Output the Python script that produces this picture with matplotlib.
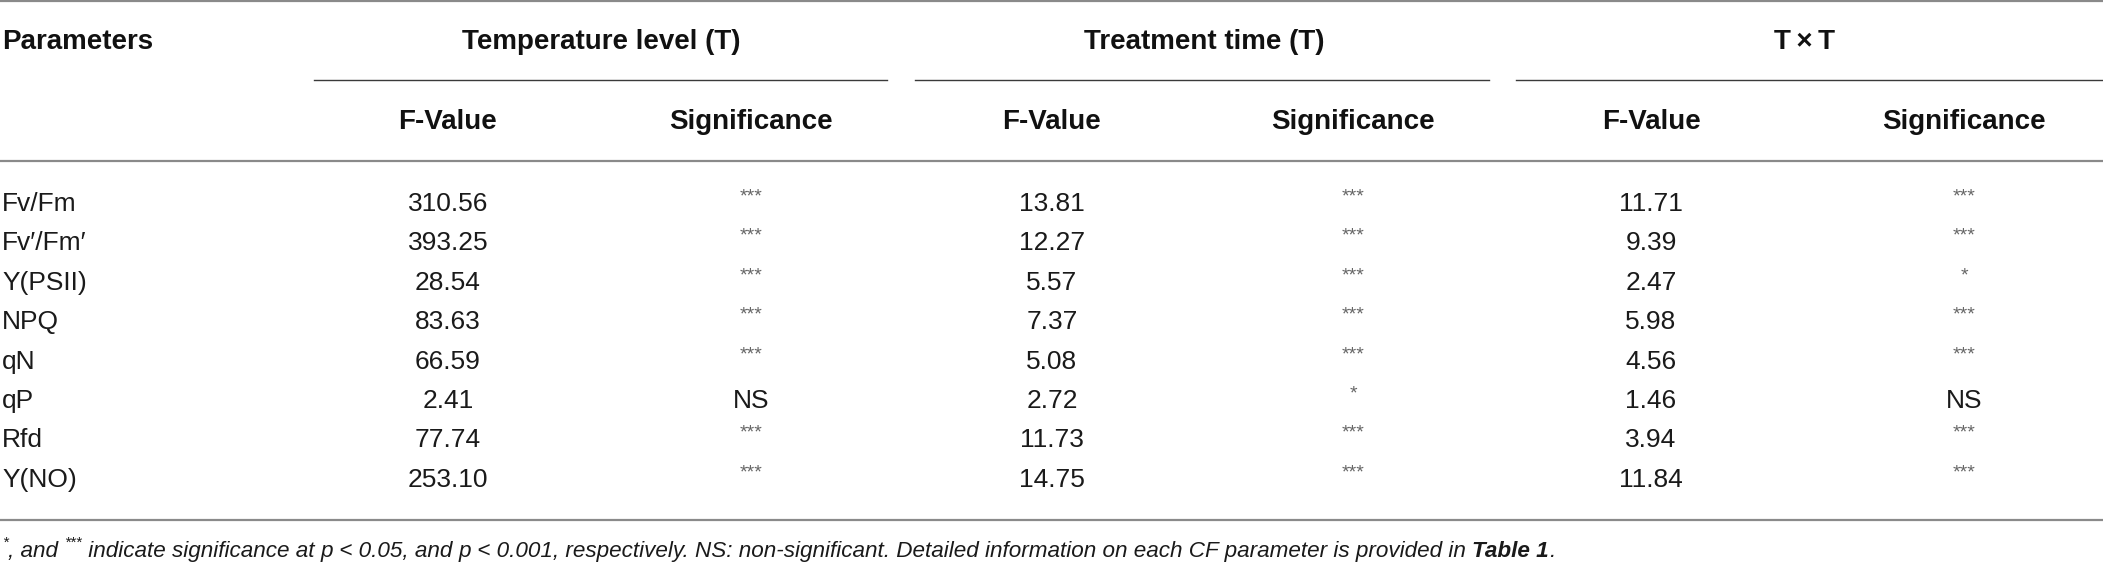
import matplotlib.pyplot as plt

W, H = 2103, 566
DPI = 100

# table content
parameters = ["Fv/Fm", "Fv\u2032/Fm\u2032", "Y(PSII)", "NPQ", "qN", "qP", "Rfd", "Y(NO)"]
groups = ["Temperature level (T)", "Treatment time (T)", "T\u2009\u00d7\u2009T"]
sub_headers = ["F-Value", "Significance"]

temp_f = ["310.56", "393.25", "28.54", "83.63", "66.59", "2.41", "77.74", "253.10"]
temp_sig = ["***", "***", "***", "***", "***", "NS", "***", "***"]
time_f = ["13.81", "12.27", "5.57", "7.37", "5.08", "2.72", "11.73", "14.75"]
time_sig = ["***", "***", "***", "***", "***", "*", "***", "***"]
txt_f = ["11.71", "9.39", "2.47", "5.98", "4.56", "1.46", "3.94", "11.84"]
txt_sig = ["***", "***", "*", "***", "***", "NS", "***", "***"]

# layout (pixels)
F_X = [448, 1052, 1651]
S_X = [751, 1353, 1964]
GROUP_X = [601, 1204, 1805]
SUBLINES = [(314, 887), (915, 1489), (1516, 2103)]
ROW0, ROW_STEP = 204, 39.4

FONT = "Liberation Sans"
DATA_SIZE = 19
HEAD_SIZE = 20
NOTE_SIZE = 16.2
GREY = "#8a8a8a"


def main():
    fig = plt.figure(figsize=(W / DPI, H / DPI), dpi=DPI)
    ax = fig.add_axes([0, 0, 1, 1])
    ax.set_xlim(0, W)
    ax.set_ylim(H, 0)
    ax.axis("off")

    # rules
    ax.plot([0, W], [1, 1], color=GREY, lw=1.6)
    ax.plot([0, W], [161, 161], color=GREY, lw=1.6)
    ax.plot([0, W], [520, 520], color=GREY, lw=1.6)
    for x0, x1 in SUBLINES:
        ax.plot([x0, x1], [80, 80], color="#3a3a3a", lw=1.0)

    # headers
    hd = dict(family=FONT, fontsize=HEAD_SIZE, fontweight="bold", va="center", color="#111")
    ax.text(2, 42, "Parameters", ha="left", **hd)
    for gx, g in zip(GROUP_X, groups):
        ax.text(gx, 42, g, ha="center", **hd)
    for fx, sx in zip(F_X, S_X):
        ax.text(fx, 122, sub_headers[0], ha="center", **hd)
        ax.text(sx, 122, sub_headers[1], ha="center", **hd)

    # body
    dt = dict(family=FONT, fontsize=DATA_SIZE, va="center", color="#1a1a1a")
    cols = [(temp_f, temp_sig), (time_f, time_sig), (txt_f, txt_sig)]
    for i, p in enumerate(parameters):
        y = ROW0 + i * ROW_STEP
        ax.text(2, y, p, ha="left", **dt)
        for k, (fv, sig) in enumerate(cols):
            ax.text(F_X[k], y, fv[i], ha="center", **dt)
            if sig[i] == "NS":
                ax.text(S_X[k], y, "NS", ha="center", **dt)
            else:
                ax.text(S_X[k], y - 7, sig[i], ha="center", va="center",
                        family=FONT, fontsize=14, color="#666")

    # footnote, built piece by piece
    pieces = [
        ("*", dict(fontsize=11, style="italic"), -7),
        (", and ", dict(style="italic"), 0),
        ("***", dict(fontsize=11, style="italic"), -7),
        (" indicate significance at ", dict(style="italic"), 0),
        ("p", dict(style="italic"), 0),
        (" < 0.05, and ", dict(style="italic"), 0),
        ("p", dict(style="italic"), 0),
        (" < 0.001, respectively. NS: non-significant. Detailed information on each CF parameter is provided in ",
         dict(style="italic"), 0),
        ("Table 1", dict(style="italic", fontweight="bold"), 0),
        (".", dict(style="italic"), 0),
    ]
    fig.canvas.draw()
    r = fig.canvas.get_renderer()
    x = 2
    for s, kw, dy in pieces:
        opts = dict(family=FONT, fontsize=NOTE_SIZE, color="#1a1a1a")
        opts.update(kw)
        t = ax.text(x, 550 + dy, s, ha="left", va="baseline" if dy == 0 else "center", **opts)
        if dy == 0:
            t.set_y(557)
        bb = t.get_window_extent(renderer=r)
        x += bb.width

    fig.savefig("out.png", dpi=DPI)
    plt.close("all")


if __name__ == "__main__":
    main()
